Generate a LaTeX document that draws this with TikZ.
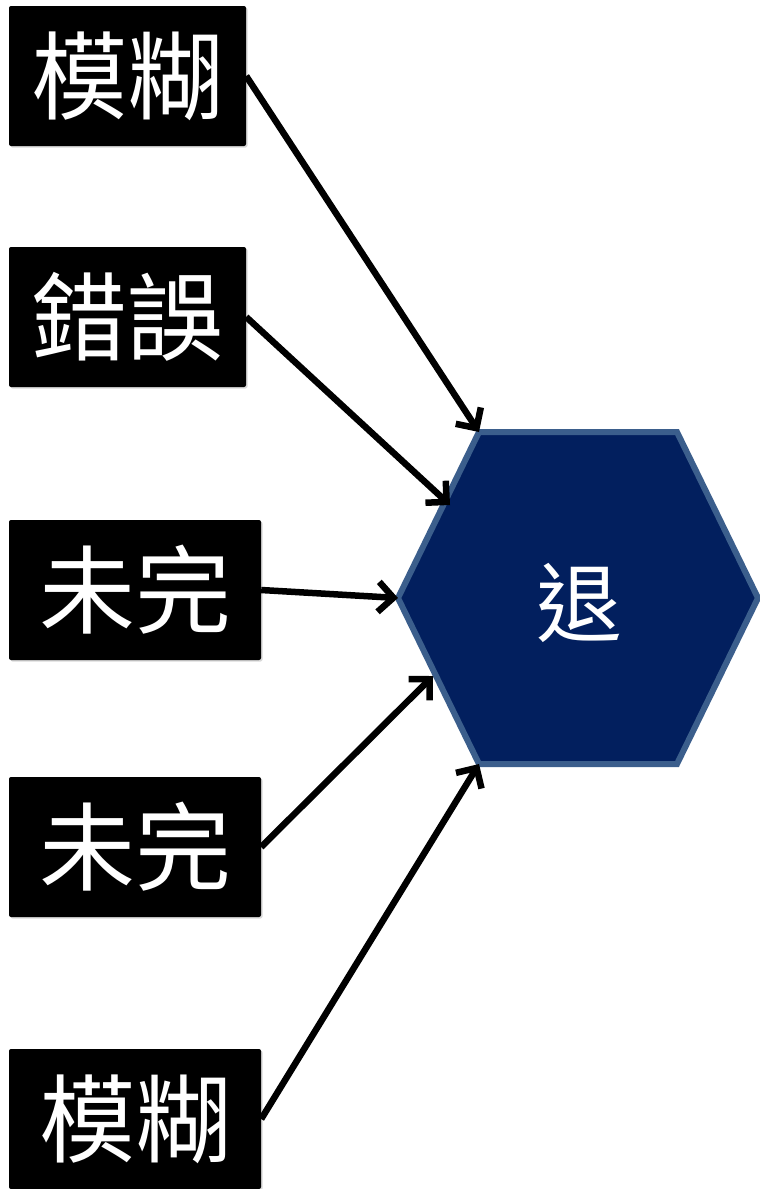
\documentclass[tikz,border=0pt]{standalone}
\usepackage{fontspec}
\newfontfamily\cjk{Noto Sans CJK TC}
\usetikzlibrary{arrows.meta,shadows}
\definecolor{hexfill}{RGB}{2,31,94}
\definecolor{hexline}{RGB}{59,94,140}
\tikzset{
  wordbox/.style={rectangle, rounded corners=2pt, fill=black, minimum height=140pt,
    inner sep=0pt, text=white, font=\cjk\fontsize{96}{96}\selectfont,
    drop shadow={shadow xshift=1.5pt, shadow yshift=-1.5pt, opacity=0.3}},
  link/.style={draw=black, line width=6.5pt, -{Straight Barb[length=15pt,width=30pt,line width=6.5pt]}}
}
\begin{document}
\begin{tikzpicture}[x=1pt,y=-1pt]
\useasboundingbox (0,0) rectangle (760,1189);
% hexagon
\coordinate (htl) at (479,432);
\coordinate (htr) at (677,432);
\coordinate (hr) at (758,598);
\coordinate (hbr) at (677,764);
\coordinate (hbl) at (479,764);
\coordinate (hl) at (398,598);
\coordinate (hul) at (450,505);
\coordinate (hll) at (433,676);
\draw[fill=hexfill, draw=hexline, line width=6pt, line join=miter] (htl) -- (htr) -- (hr) -- (hbr) -- (hbl) -- (hl) -- cycle;
\node[text=white, font=\cjk\fontsize{86}{86}\selectfont] (tui) at (579,603) {退};
% boxes
\node[wordbox, minimum width=237pt] (b1) at (127.5,76) {模糊};
\node[wordbox, minimum width=237pt] (b2) at (127.5,317) {錯誤};
\node[wordbox, minimum width=252pt] (b3) at (135,590) {未完};
\node[wordbox, minimum width=252pt] (b4) at (135,847) {未完};
\node[wordbox, minimum width=252pt] (b5) at (135,1119) {模糊};
% arrows
\draw[link] (b1.east) -- (htl);
\draw[link] (b2.east) -- (hul);
\draw[link] (b3.east) -- (hl);
\draw[link] (b4.east) -- (hll);
\draw[link] (b5.east) -- (hbl);
\end{tikzpicture}
\end{document}
